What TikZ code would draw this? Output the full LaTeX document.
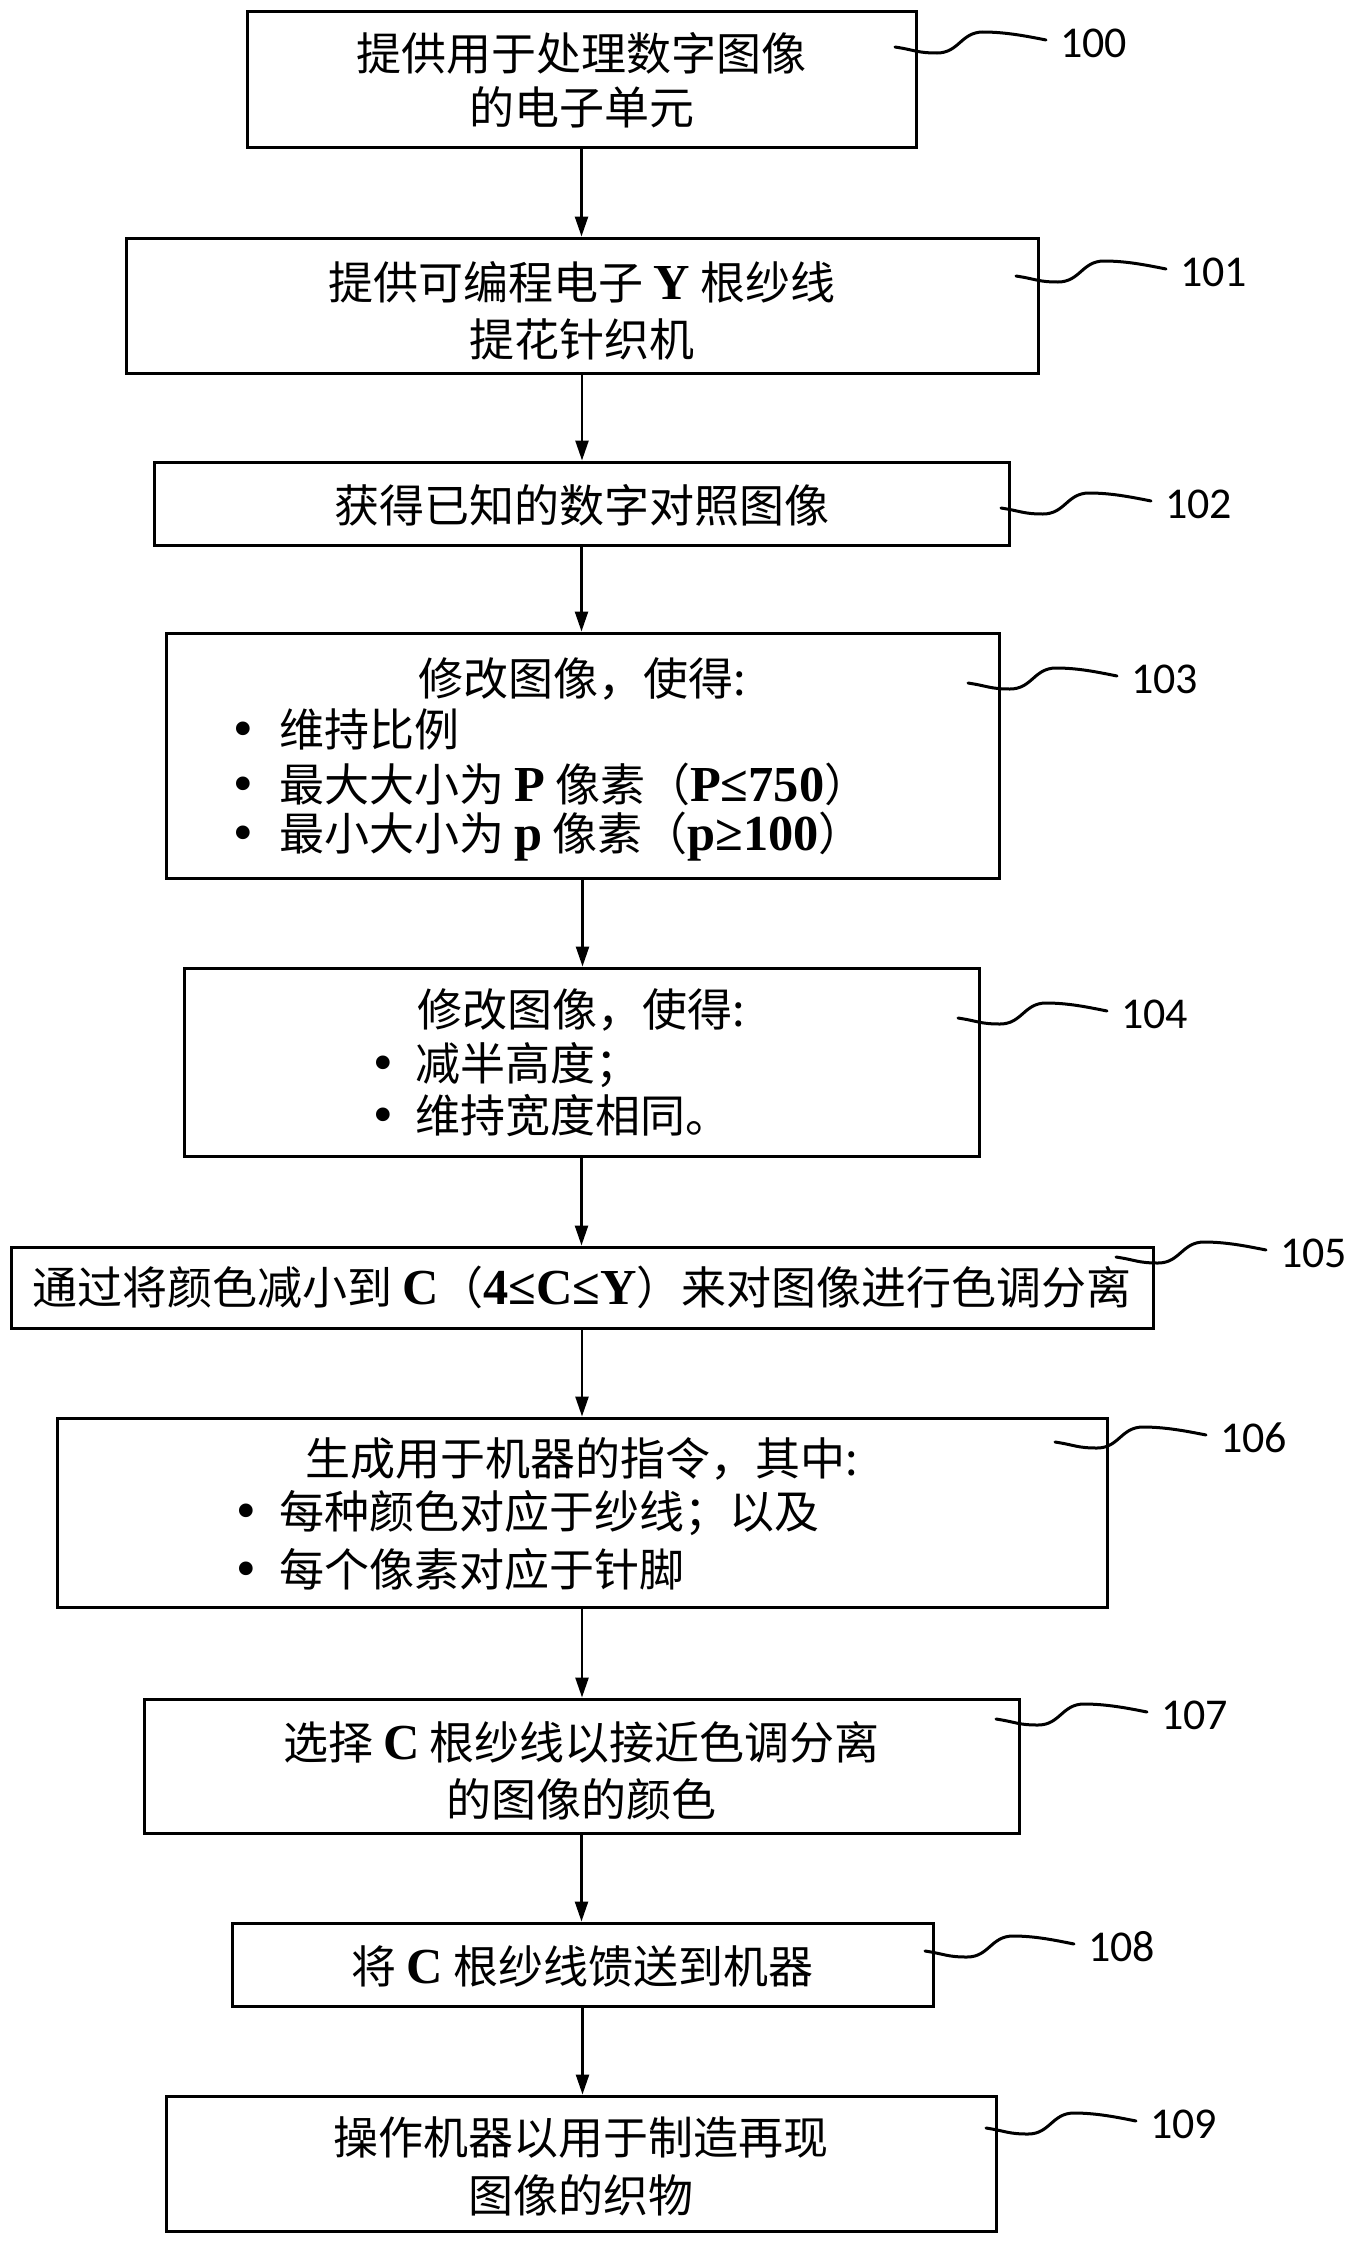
\documentclass[tikz,border=0pt]{standalone}
\usepackage{fontspec}
\setmainfont{Noto Sans CJK SC}
\newfontfamily\latf{Liberation Serif}[Scale=1.12]
\newfontfamily\numf{Carlito}
\usetikzlibrary{arrows.meta}
\newcommand\Lb[1]{{\latf\bfseries #1}}
\newcommand\Bul[1]{\makebox[#1]{\raisebox{1pt}{\latf\bfseries •}}}
\begin{document}
\begin{tikzpicture}[x=1pt,y=-1pt,
  box/.style={draw, line width=3pt, inner sep=0pt, rectangle},
  txt/.style={inner sep=0pt, font=\fontsize{45}{54}\selectfont},
  itm/.style={txt, anchor=west},
  lbl/.style={inner sep=0pt, anchor=west, font=\numf\fontsize{44}{44}\selectfont},
  arr/.style={line width=2.5pt, -{Triangle[length=20pt,width=13pt]}},
  wave/.style={line width=3pt, line cap=round},
]
\fill[white] (0,0) rectangle (1353,2243);
\useasboundingbox (0,0) rectangle (1353,2243);

% boxes
\node[box, minimum width=669pt, minimum height=136pt] (b100) at (581.5,79) {};
\node[box, minimum width=912pt, minimum height=135pt] (b101) at (582,305.5) {};
\node[box, minimum width=855pt, minimum height=83pt]  (b102) at (581.5,503.5) {};
\node[box, minimum width=833pt, minimum height=245pt] (b103) at (582.5,755.5) {};
\node[box, minimum width=795pt, minimum height=188pt] (b104) at (581.5,1062) {};
\node[box, minimum width=1142pt, minimum height=81pt] (b105) at (582,1287.5) {};
\node[box, minimum width=1050pt, minimum height=189pt] (b106) at (582,1512.5) {};
\node[box, minimum width=875pt, minimum height=134pt] (b107) at (581.5,1766) {};
\node[box, minimum width=701pt, minimum height=83pt]  (b108) at (582.5,1964.5) {};
\node[box, minimum width=830pt, minimum height=135pt] (b109) at (581,2163.5) {};

% texts
\node[txt] (t100a) at (581.5,53) {提供用于处理数字图像};
\node[txt] (t100b) at (581.5,107) {的电子单元};
\node[txt] (t101a) at (582,282) {提供可编程电子 \Lb{Y} 根纱线};
\node[txt] (t101b) at (582,339) {提花针织机};
\node[txt] (t102a) at (581.5,505) {获得已知的数字对照图像};
\node[txt] (t103a) at (582.5,679) {修改图像，使得:};
\node[itm] (t103b) at (207,729) {\Bul{72pt}维持比例};
\node[itm] (t103c) at (207,784) {\Bul{72pt}最大大小为 \Lb{P} 像素（\Lb{P≤750}）};
\node[itm] (t103d) at (207,837) {\Bul{72pt}最小大小为 \Lb{p} 像素（\Lb{p≥100}）};
\node[txt] (t104a) at (581.5,1010) {修改图像，使得:};
\node[itm] (t104b) at (351,1065) {\Bul{64pt}减半高度；};
\node[itm] (t104c) at (351,1115) {\Bul{64pt}维持宽度相同。};
\node[txt] (t105a) at (582,1287) {通过将颜色减小到 \Lb{C}（\Lb{4≤C≤Y}）来对图像进行色调分离};
\node[txt] (t106a) at (582,1459) {生成用于机器的指令，其中:};
\node[itm] (t106b) at (213,1513) {\Bul{66pt}每种颜色对应于纱线；以及};
\node[itm] (t106c) at (213,1569) {\Bul{66pt}每个像素对应于针脚};
\node[txt] (t107a) at (581.5,1742) {选择 \Lb{C} 根纱线以接近色调分离};
\node[txt] (t107b) at (581.5,1799) {的图像的颜色};
\node[txt] (t108a) at (582.5,1966) {将 \Lb{C} 根纱线馈送到机器};
\node[txt] (t109a) at (581,2138) {操作机器以用于制造再现};
\node[txt] (t109b) at (581,2195) {图像的织物};

% arrows
\foreach \a/\b in {b100/b101,b101/b102,b102/b103,b103/b104,b104/b105,b105/b106,b106/b107,b107/b108,b108/b109}
  \draw[arr] (\a.south) -- (\a.south |- \b.north);

% labels and waves
\foreach \n/\sx/\sy/\lx in {100/895/47/1060, 101/1016/276/1180, 102/1001/508/1165,
  103/968/683/1131, 104/958/1018/1121, 105/1116/1257/1280, 106/1055/1442/1220,
  107/996/1719/1161, 108/925/1951/1088, 109/986/2128/1150}{
  \node[lbl] (l\n) at (\lx,\sy-4) {\n};
  \coordinate (w\n) at (\sx,\sy);
  \draw[wave] (w\n) .. controls +(20,3) and +(-20,0) .. ++(42,6)
    .. controls +(22,0) and +(-22,0) .. ++(46,-21)
    .. controls +(22,0) and +(-20,-4) .. ([xshift=-14pt,yshift=3pt]l\n.west);
}
\end{tikzpicture}
\end{document}
